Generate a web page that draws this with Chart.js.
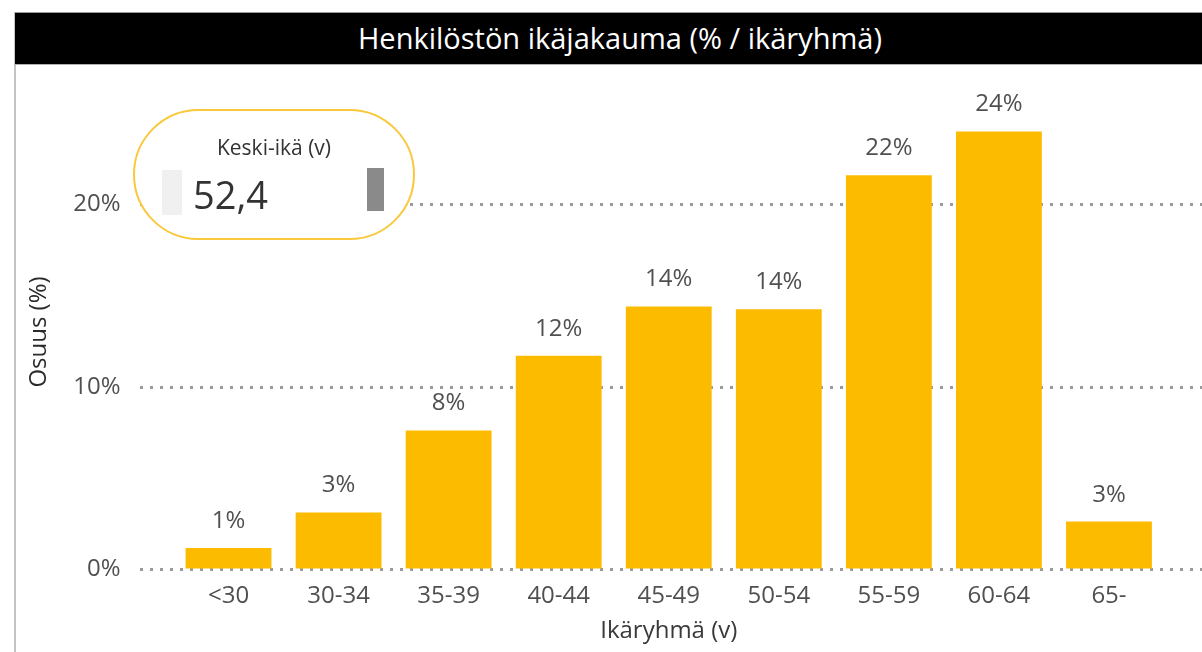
<!DOCTYPE html>
<html lang="fi">
<head>
<meta charset="utf-8">
<title>Henkilöstön ikäjakauma</title>
<script src="https://cdn.jsdelivr.net/npm/chart.js@4.4.1/dist/chart.umd.min.js"></script>
<style>
  html, body { margin: 0; padding: 0; background: #fff; width: 1202px; height: 652px; overflow: hidden; }
  body { font-family: 'Open Sans', sans-serif; position: relative; }
  .frame { position: absolute; left: 14px; top: 12px; width: 2px; height: 640px; background: #c4c4c4; }
  .titlebar {
    position: absolute; left: 15px; top: 12px; width: 1210px; height: 51px;
    background: #000; border-top: 1px solid #9a9a9a; border-bottom: 1px solid #b0b0b0;
    color: #fff; font-size: 29px; line-height: 49px; text-align: center;
  }
  #wrap { position: absolute; left: 16px; top: 65px; width: 1186px; height: 587px; }
  .kpi {
    position: absolute; left: 133px; top: 109px; width: 278px; height: 127px;
    border: 2px solid #f9c83c; border-radius: 66px; background: #fff;
  }
  .kpi .cap { position: absolute; left: 0; right: 0; top: 22px; text-align: center; font-size: 21px; color: #333; }
  .kpi .num { position: absolute; left: 58px; top: 57px; font-size: 38px; color: #333; line-height: 52px; }
  .kpi .lbar { position: absolute; left: 27px; top: 59px; width: 20px; height: 45px; background: #f0f0f0; }
  .kpi .rbar { position: absolute; left: 232px; top: 57px; width: 17px; height: 43px; background: #8a8a8a; }
</style>
</head>
<body>
<div class="frame"></div>
<div class="titlebar">Henkilöstön ikäjakauma (% / ikäryhmä)</div>
<div id="wrap"><canvas id="chart" width="1186" height="587"></canvas></div>
<div class="kpi">
  <div class="cap">Keski-ikä (v)</div>
  <div class="lbar"></div>
  <div class="num">52,4</div>
  <div class="rbar"></div>
</div>
<script>
const ageGroups = ['<30', '30-34', '35-39', '40-44', '45-49', '50-54', '55-59', '60-64', '65-'];
const sharePct = [1.15, 3.1, 7.6, 11.7, 14.4, 14.25, 21.6, 24.0, 2.6];
const yTicks = [0, 10, 20];

const textGrey = '#505050';

// dotted gridlines run wider than the bar area, like in the report
const dottedGrid = {
  id: 'dottedGrid',
  beforeDatasetsDraw(chart) {
    const { ctx } = chart;
    const y = chart.scales.y;
    ctx.save();
    ctx.strokeStyle = '#9a9a9a';
    ctx.lineWidth = 3;
    ctx.setLineDash([3, 7]);
    yTicks.forEach(v => {
      const py = Math.round(y.getPixelForValue(v)) + 0.5;
      ctx.beginPath();
      ctx.moveTo(124, py);
      ctx.lineTo(chart.width, py);
      ctx.stroke();
    });
    ctx.restore();
  }
};

const barLabels = {
  id: 'barLabels',
  afterDatasetsDraw(chart) {
    const { ctx } = chart;
    const meta = chart.getDatasetMeta(0);
    ctx.save();
    ctx.font = '24px "Open Sans"';
    ctx.fillStyle = textGrey;
    ctx.textAlign = 'center';
    ctx.textBaseline = 'alphabetic';
    meta.data.forEach((bar, i) => {
      ctx.fillText(Math.round(sharePct[i]) + '%', bar.x, bar.y - 20);
    });
    ctx.restore();
  }
};

Chart.defaults.font.family = '"Open Sans", sans-serif';

new Chart(document.getElementById('chart'), {
  type: 'bar',
  data: {
    labels: ageGroups,
    datasets: [{
      data: sharePct,
      backgroundColor: '#fdbb00',
      borderWidth: 0,
      categoryPercentage: 1,
      barPercentage: 0.78
    }]
  },
  options: {
    responsive: false,
    animation: false,
    events: [],
    layout: { padding: { left: 0, right: 38, top: 30, bottom: 0 } },
    plugins: {
      legend: { display: false },
      tooltip: { enabled: false }
    },
    scales: {
      x: {
        grid: { display: false },
        border: { display: false },
        ticks: { color: textGrey, font: { size: 24 }, padding: 5, maxRotation: 0 },
        title: {
          display: true,
          text: 'Ikäryhmä (v)',
          color: '#3a3a3a',
          font: { size: 24 },
          padding: { top: 0, bottom: 6 }
        },
        afterFit: axis => { axis.height = 83; }
      },
      y: {
        min: 0,
        max: 26,
        // invisible tick marks push the labels left without adding top padding
        grid: { display: true, drawOnChartArea: false, drawTicks: true, tickLength: 53, color: 'rgba(0,0,0,0)' },
        border: { display: false },
        ticks: {
          color: textGrey,
          font: { size: 24 },
          padding: 0,
          callback: v => v + '%'
        },
        afterBuildTicks: axis => { axis.ticks = yTicks.map(v => ({ value: v })); },
        title: {
          display: true,
          text: 'Osuus (%)',
          color: '#2a2a2a',
          font: { size: 24 },
          padding: { top: 9, bottom: 0 }
        },
        afterFit: axis => { axis.width = 157.5; }
      }
    }
  },
  plugins: [dottedGrid, barLabels]
});
</script>
</body>
</html>
